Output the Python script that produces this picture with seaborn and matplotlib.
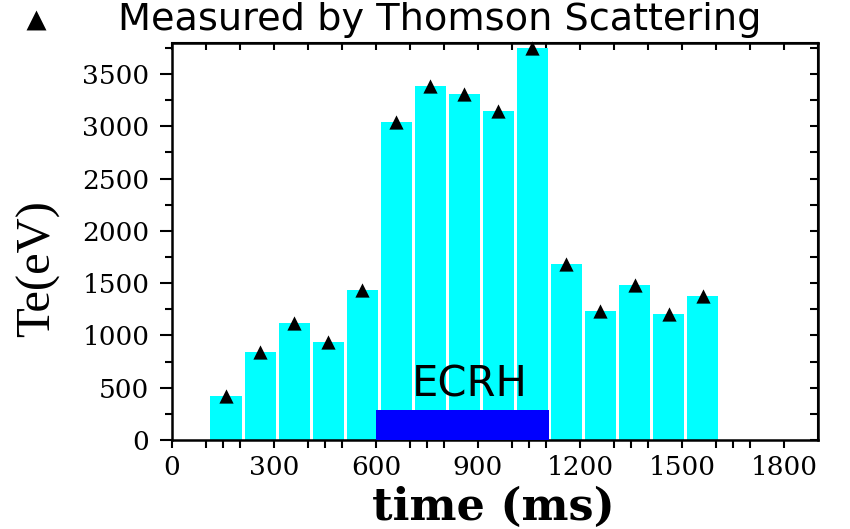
import numpy as np
import matplotlib
matplotlib.use("Agg")
import matplotlib.pyplot as plt
from matplotlib.ticker import FixedLocator
from matplotlib.font_manager import FontProperties
import seaborn as sns

# ---- data ----
times = [160, 260, 360, 460, 560, 660, 760, 860, 960, 1060, 1160, 1260, 1360, 1460, 1560]
te_ev = [421, 839, 1120, 938, 1432, 3043, 3385, 3308, 3148, 3754, 1687, 1231, 1483, 1208, 1375]
ecrh_start = 600
ecrh_end = 1110
ecrh_level = 290
x_major = [0, 300, 600, 900, 1200, 1500, 1800]
x_minor = [100, 150, 200, 400, 450, 500, 700, 750, 800, 1000, 1050, 1100,
           1300, 1350, 1400, 1600, 1650, 1700]
x_top = list(range(0, 1901, 100))
y_major = [0, 500, 1000, 1500, 2000, 2500, 3000, 3500]
y_minor = [250, 750, 1250, 1750, 2250, 2750, 3250, 3750]
legend_label = "Measured by Thomson Scattering"

sns.set_style("ticks")
plt.rcParams["font.family"] = ["DejaVu Serif"]
for key in ["text.color", "axes.labelcolor", "xtick.color", "ytick.color", "axes.edgecolor"]:
    plt.rcParams[key] = "black"

W, H = 850, 529
fig = plt.figure(figsize=(W / 100, H / 100), dpi=100)
ax = fig.add_axes([171.7 / W, 1 - 440 / H, (818.3 - 171.7) / W, (440 - 42.7) / H])

sns.barplot(x=times, y=te_ev, native_scale=True, width=0.92, color="#00FFFF",
            saturation=1, errorbar=None, linewidth=0, ax=ax, zorder=2)
ax.bar(ecrh_start, ecrh_level, width=ecrh_end - ecrh_start, align="edge",
       color="#0000FF", linewidth=0, zorder=3)
sns.scatterplot(x=times, y=te_ev, marker="^", color="black", s=105, linewidth=0,
                label=legend_label, ax=ax, zorder=4, clip_on=False)

ax.text(876, 414, "ECRH", ha="center", va="baseline", fontsize=30,
        family="DejaVu Sans", color="black", zorder=5)

ax.set_xlim(0, 1900)
ax.set_ylim(0, 3800)

# bottom / left ticks
ax.xaxis.set_major_locator(FixedLocator(x_major))
ax.xaxis.set_minor_locator(FixedLocator(x_minor))
ax.yaxis.set_major_locator(FixedLocator(y_major))
ax.yaxis.set_minor_locator(FixedLocator(y_minor))
ax.tick_params(axis="x", which="major", direction="out", length=6, width=1.5,
               labelsize=19, pad=5, top=False)
ax.tick_params(axis="x", which="minor", direction="out", length=6, width=1.5, top=False)
ax.tick_params(axis="y", which="major", direction="out", length=9, width=1.5,
               labelsize=19, pad=7, right=False)
ax.tick_params(axis="y", which="minor", direction="out", length=5, width=1.5, right=False)

# top / right inward ticks
secx = ax.secondary_xaxis("top")
secx.set_xticks(x_top)
secx.tick_params(axis="x", direction="in", length=5, width=1.5, labeltop=False)
secx.spines["top"].set_linewidth(1.5)
secy = ax.secondary_yaxis("right")
secy.set_yticks(y_major + y_minor)
secy.tick_params(axis="y", direction="in", length=6, width=1.5, labelright=False)
secy.spines["right"].set_linewidth(1.5)

for s in ax.spines.values():
    s.set_visible(True)
    s.set_linewidth(1.8)
    s.set_color("black")

ax.set_xlabel("time (ms)", fontsize=32, fontweight="bold", family="DejaVu Serif", va="center")
ax.xaxis.set_label_coords((493 - 171.7) / (818.3 - 171.7), (440 - 507) / (440 - 42.7))
ax.set_ylabel("Te(eV)", fontsize=35, family="Liberation Serif", va="center")
ax.yaxis.set_label_coords((38 - 171.7) / (818.3 - 171.7), (440 - 269) / (440 - 42.7))

handles, labels = ax.get_legend_handles_labels()
if ax.get_legend() is not None:
    ax.get_legend().remove()
fig.legend(handles, labels, loc="center left", bbox_to_anchor=(19 / W, 1 - 20 / H),
           frameon=False, borderpad=0, borderaxespad=0, handlelength=0.9,
           handletextpad=1.7, markerscale=1.4, labelcolor="black",
           prop=FontProperties(family="DejaVu Sans", size=27.5))

fig.savefig("out.png", dpi=100)
